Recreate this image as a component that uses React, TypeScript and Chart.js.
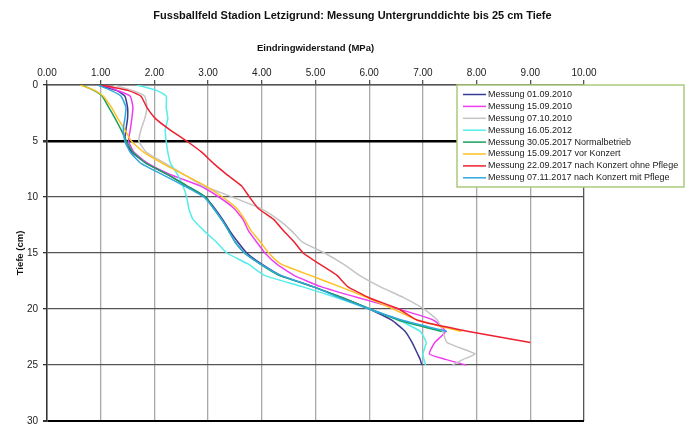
import { useEffect, useRef } from "react";
import { Chart, registerables } from "chart.js";

Chart.register(...registerables);

const FONT = '"Liberation Sans", Arial, sans-serif';

const chartTitle = "Fussballfeld Stadion Letzigrund: Messung Untergrunddichte bis 25 cm Tiefe";
const xAxisTitle = "Eindringwiderstand (MPa)";
const yAxisTitle = "Tiefe (cm)";

// depth in cm (y axis)
const depths = [0, 0.5, 1, 2, 3, 4, 5, 6, 7, 8, 9, 10, 11, 12, 13, 14, 15, 16, 17, 18, 19, 20, 21, 22, 23, 24, 24.5, 25];

const seriesLabels = [
  "Messung 01.09.2010",
  "Messung 15.09.2010",
  "Messung 07.10.2010",
  "Messung 16.05.2012",
  "Messung 30.05.2017 Normalbetrieb",
  "Messung 15.09.2017 vor Konzert",
  "Messung 22.09.2017 nach Konzert ohne Pflege",
  "Messung 07.11.2017 nach Konzert mit Pflege",
];

const seriesColors = ["#3a3a94", "#f03cf0", "#c4c4c4", "#55ecec", "#18a05c", "#ffc020", "#ee2030", "#30a8dc"];

// penetration resistance in MPa per depth
const m20100901 = [0.95, 1.3, 1.45, 1.5, 1.5, 1.47, 1.45, 1.58, 1.85, 2.25, 2.6, 2.95, 3.12, 3.27, 3.4, 3.55, 3.72, 4.0, 4.35, 4.95, 5.5, 6.0, 6.42, 6.67, 6.8, 6.9, 6.95, 6.98];
const m20100915 = [1.05, 1.32, 1.55, 1.6, 1.58, 1.55, 1.52, 1.62, 1.88, 2.3, 2.85, 3.2, 3.48, 3.65, 3.75, 3.9, 4.06, 4.28, 4.6, 5.1, 5.8, 6.55, 7.2, 7.42, 7.22, 7.12, 7.42, 7.8];
const m20101007 = [1.25, 1.6, 1.82, 1.86, 1.82, 1.75, 1.71, 1.85, 2.2, 2.55, 2.9, 3.45, 3.97, 4.3, 4.55, 4.75, 5.17, 5.52, 5.82, 6.2, 6.65, 7.02, 7.27, 7.37, 7.45, 7.97, 7.75, 7.55];
const m20120516 = [1.67, 2.05, 2.22, 2.22, 2.25, 2.2, 2.22, 2.25, 2.3, 2.43, 2.53, 2.6, 2.64, 2.72, 2.92, 3.15, 3.35, 3.75, 4.05, 4.75, 5.4, 6.0, 6.55, 6.95, 7.06, 7.0, 7.02, 7.05];
const m20170530 = [0.65, 0.88, 1.03, 1.15, 1.27, 1.38, 1.48, 1.6, 1.85, 2.25, 2.6, 2.95, 3.1, 3.25, 3.38, 3.5, 3.68, 3.97, 4.32, 4.95, 5.5, 6.02, 6.55, 7.35, null, null, null, null];
const m20170915 = [0.62, 0.9, 1.05, 1.2, 1.32, 1.45, 1.57, 1.8, 2.15, 2.55, 2.95, 3.27, 3.53, 3.68, 3.8, 3.97, 4.13, 4.36, 4.9, 5.45, 5.97, 6.45, 6.9, 7.72, null, null, null, null];
const m20170922 = [1.0, 1.52, 1.75, 1.86, 2.02, 2.29, 2.6, 2.88, 3.1, 3.35, 3.62, 3.77, 3.93, 4.22, 4.4, 4.6, 4.77, 5.08, 5.4, 5.6, 6.0, 6.55, 6.9, 7.85, 9.0, null, null, null];
const m20171107 = [0.95, 1.2, 1.38, 1.47, 1.45, 1.42, 1.45, 1.55, 1.75, 2.15, 2.55, 2.92, 3.1, 3.25, 3.38, 3.5, 3.68, 3.98, 4.35, 4.95, 5.45, 6.0, 6.62, 7.45, null, null, null, null];

const seriesValues = [m20100901, m20100915, m20101007, m20120516, m20170530, m20170915, m20170922, m20171107];

const xMin = 0;
const xMax = 10;
const xStep = 1;
const yMin = 0;
const yMax = 30;
const yStep = 5;
const markedDepth = 5;

const boxLegend = {
  id: "boxLegend",
  afterDraw(chart: any) {
    const ctx = chart.ctx;
    const area = chart.chartArea;
    const x0 = area.left + 410;
    const y0 = area.top;
    const w = 227;
    const h = 102;
    ctx.save();
    ctx.fillStyle = "#ffffff";
    ctx.fillRect(x0, y0, w, h);
    ctx.strokeStyle = "#aac97e";
    ctx.lineWidth = 1.5;
    ctx.strokeRect(x0, y0, w, h);
    ctx.font = `9px ${FONT}`;
    ctx.textBaseline = "middle";
    ctx.textAlign = "left";
    chart.data.datasets.forEach((ds: any, i: number) => {
      const y = y0 + 9.5 + i * 11.9;
      ctx.strokeStyle = ds.borderColor;
      ctx.lineWidth = 1.5;
      ctx.beginPath();
      ctx.moveTo(x0 + 6, y);
      ctx.lineTo(x0 + 29, y);
      ctx.stroke();
      ctx.fillStyle = "#1a1a1a";
      ctx.fillText(ds.label, x0 + 31, y);
    });
    ctx.restore();
  },
};

export default function App() {
  const canvasRef = useRef<HTMLCanvasElement | null>(null);

  useEffect(() => {
    if (!canvasRef.current) return;
    const datasets = seriesLabels.map((label, i) => ({
      label,
      data: depths
        .map((d, j) => ({ x: seriesValues[i][j], y: d }))
        .filter((p) => p.x !== null && p.x !== undefined),
      borderColor: seriesColors[i],
      backgroundColor: seriesColors[i],
      borderWidth: 1.5,
      pointRadius: 0,
      showLine: true,
      tension: 0.15,
      order: seriesLabels.length - i,
    }));

    const chart = new Chart(canvasRef.current, {
      type: "scatter",
      data: { datasets },
      plugins: [boxLegend],
      options: {
        animation: false,
        responsive: true,
        maintainAspectRatio: false,
        layout: { padding: { left: 20, right: 0, top: 0, bottom: 8 }, autoPadding: false },
        plugins: {
          legend: { display: false },
          tooltip: { enabled: false },
          title: {
            display: true,
            text: chartTitle,
            color: "#111",
            font: { family: FONT, size: 11, weight: "bold" },
            padding: { top: 9, bottom: 9 },
          },
        },
        scales: {
          x: {
            type: "linear",
            position: "top",
            min: xMin,
            max: xMax,
            afterFit: (s: any) => {
              s.height = 53.8;
            },
            ticks: {
              stepSize: xStep,
              padding: 1,
              color: "#222",
              font: { family: FONT, size: 10 },
              callback: (v: any) => Number(v).toFixed(2),
              maxRotation: 0,
            },
            grid: {
              color: (c: any) => (c.tick && c.tick.value === xMax ? "#555" : "#a8a8a8"),
              lineWidth: 1.3,
              tickLength: 5,
              tickColor: "#555",
            },
            border: { display: true, color: "#555", width: 1.5 },
            title: {
              display: true,
              text: xAxisTitle,
              color: "#111",
              font: { family: FONT, size: 9.5, weight: "bold" },
              padding: { top: 11, bottom: 0 },
            },
          },
          y: {
            type: "linear",
            reverse: true,
            min: yMin,
            max: yMax,
            afterFit: (s: any) => {
              s.width = 27;
            },
            ticks: {
              stepSize: yStep,
              padding: 5,
              color: "#222",
              font: { family: FONT, size: 10 },
            },
            grid: {
              color: (c: any) =>
                c.tick && (c.tick.value === markedDepth || c.tick.value === yMax) ? "#000" : "#555",
              lineWidth: (c: any) =>
                c.tick && c.tick.value === markedDepth ? 2.5 : c.tick && c.tick.value === yMax ? 2 : 1.3,
              tickLength: 4,
              tickColor: "#333",
            },
            border: { display: true, color: "#333", width: 1.5 },
            title: {
              display: true,
              text: yAxisTitle,
              color: "#111",
              font: { family: FONT, size: 9.5, weight: "bold" },
              padding: { top: -5, bottom: 0 },
            },
          },
          yRight: {
            type: "linear",
            position: "right",
            display: true,
            afterFit: (s: any) => {
              s.width = 101;
            },
            ticks: { display: false },
            grid: { display: false, drawTicks: false },
            border: { display: false },
          },
        },
      },
    } as any);

    return () => chart.destroy();
  }, []);

  return (
    <div style={{ position: "absolute", left: 0, top: 0, width: 685, height: 432, background: "#fff" }}>
      <canvas ref={canvasRef} />
    </div>
  );
}
